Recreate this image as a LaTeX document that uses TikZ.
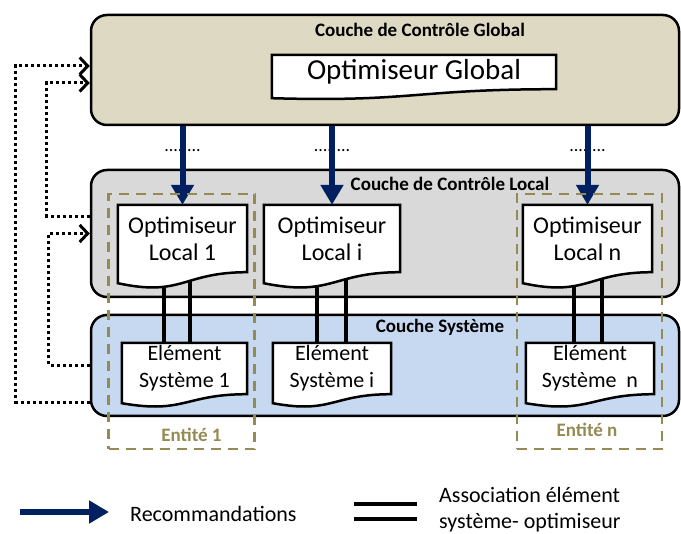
\documentclass[tikz,border=0pt]{standalone}
\usepackage{fontspec}
\setmainfont{Carlito}
\usetikzlibrary{arrows.meta,calc,positioning}

\definecolor{globalfill}{HTML}{DDD9C3}
\definecolor{localfill}{HTML}{D9D9D9}
\definecolor{sysfill}{HTML}{C6D9F1}
\definecolor{entcol}{HTML}{948A54}
\definecolor{navy}{HTML}{002060}

\pgfdeclarelayer{background}
\pgfdeclarelayer{links}
\pgfdeclarelayer{docs}
\pgfsetlayers{background,links,docs,main}

\newcommand\globfont{\fontsize{29}{32}\selectfont}
\newcommand\localfont{\fontsize{24}{27}\selectfont}
\newcommand\elemfont{\fontsize{22}{27}\selectfont}

% document outline: node, drop of the left end, depth of the wave
\newcommand\docshape[3]{%
  \begin{pgfonlayer}{docs}
  \draw[docline] (#1.south east) -- (#1.north east) -- (#1.north west) -- ([yshift=-#2]#1.south west)
    .. controls ([yshift=-#3]#1.south) and (#1.south) .. (#1.south east) -- cycle;
  \end{pgfonlayer}}

\tikzset{
  layerbox/.style={draw=black, line width=2.5pt, rounded corners=16pt, minimum width=588pt, inner sep=0pt},
  layertitle/.style={font=\bfseries\fontsize{19}{19}\selectfont},
  docbox/.style={inner sep=0pt, align=center},
  docline/.style={fill=white, line width=2.5pt, line join=miter},
  reco/.style={draw=navy, line width=6pt, -{Triangle[width=22pt,length=20pt]}},
  assoc/.style={line width=4pt},
  entbox/.style={draw=entcol, line width=2.5pt, dash pattern=on 10pt off 7pt, inner sep=0pt},
  entlabel/.style={text=entcol, font=\bfseries\fontsize{19}{19}\selectfont},
  feedback/.style={line width=3pt, dash pattern=on 3pt off 3pt, -{Straight Barb[length=8pt,width=17pt,line width=3pt]}},
  dotsep/.style={font=\fontsize{18}{18}\selectfont, inner sep=0pt},
  legendtext/.style={font=\fontsize{22}{26}\selectfont, inner sep=0pt},
}

\begin{document}
\begin{tikzpicture}[x=1pt,y=-1pt]
  \useasboundingbox (0,0) rectangle (681,534);

  % the three layers
  \begin{pgfonlayer}{background}
    \node[layerbox, fill=globalfill, minimum height=110pt] (glob) at (385,70) {};
    \node[layerbox, fill=localfill, minimum height=127pt] (loc) at (385,233.5) {};
    \node[layerbox, fill=sysfill, minimum height=101pt] (sys) at (385,365.5) {};
  \end{pgfonlayer}
  \node[layertitle, anchor=base] (globtitle) at (420,37) {Couche de Contrôle Global};
  \node[layertitle, anchor=base] (loctitle) at (450,191) {Couche de Contrôle Local};
  \node[layertitle, anchor=base] (systitle) at (440,333) {Couche Système};

  % optimiseurs et elements
  \node[docbox, font=\globfont, minimum width=284pt, minimum height=34pt] (og) at (414,72) {Optimiseur Global};
  \docshape{og}{9pt}{13pt}

  \node[docbox, font=\localfont, minimum width=129pt, minimum height=67pt] (ol1) at (182.5,238.5) {Optimiseur\\Local 1};
  \node[docbox, font=\localfont, minimum width=136pt, minimum height=67pt] (oli) at (332,238.5) {Optimiseur\\Local i};
  \node[docbox, font=\localfont, minimum width=129pt, minimum height=67pt] (oln) at (587.5,238.5) {Optimiseur\\Local n};
  \foreach \n in {ol1,oli,oln} {\docshape{\n}{11pt}{25pt}}

  \node[docbox, font=\elemfont, minimum width=125pt, minimum height=51pt] (el1) at (184.5,368.5) {Elément\\Système 1};
  \node[docbox, font=\elemfont, minimum width=118pt, minimum height=51pt] (eli) at (332,368.5) {Elément\\Système i};
  \node[docbox, font=\elemfont, minimum width=128pt, minimum height=51pt] (eln) at (590,368.5) {Elément\\Système~ n};
  \foreach \n in {el1,eli,eln} {\docshape{\n}{9pt}{20pt}}

  % associations
  \begin{pgfonlayer}{links}
    \foreach \o/\e/\a/\b in {ol1/el1/-19/7, oli/eli/-15/14, oln/eln/-14/14} {
      \draw[assoc] ([xshift=\a pt]\o.center) -- ([xshift=\a pt]\o.center |- \e.north);
      \draw[assoc] ([xshift=\b pt]\o.center) -- ([xshift=\b pt]\o.center |- \e.north);
    }
  \end{pgfonlayer}

  % recommandations
  \foreach \o in {ol1,oli,oln} {
    \node[dotsep] at ($(glob.south -| \o.north)+(0,24)$) {........};
    \draw[reco] (glob.south -| \o.north) -- (\o.north);
  }

  % entites
  \node[entbox, minimum width=146pt, minimum height=255pt] (ent1) at (181.5,321.5) {};
  \node[entbox, minimum width=145pt, minimum height=255pt] (entn) at (589.5,321.5) {};
  \node[entlabel, anchor=base] at ($(ent1.south)+(10,-9)$) {Entité 1};
  \node[entlabel, anchor=base] at ($(entn.south)+(-2.5,-14)$) {Entité n};

  % retours
  \draw[feedback] ([yshift=-37pt]sys.west) -- ++(-74,0) |- ([yshift=4pt]glob.west);
  \draw[feedback] (sys.west) -- ++(-41,0) |- (loc.west);
  \draw[feedback] ([yshift=17pt]loc.west) -- ++(-43,0) |- ([yshift=-13pt]glob.west);

  % legende
  \coordinate (recoleg) at (20,512);
  \draw[reco] (recoleg) -- ++(89,0) coordinate (recolegend);
  \node[legendtext, anchor=base west] (recotext) at (130,522) {Recommandations};
  \coordinate (assocleg) at (354,504);
  \draw[assoc] (assocleg) -- ++(63,0);
  \draw[assoc] ([yshift=-15pt]assocleg) -- ++(63,0);
  \node[legendtext, anchor=west, align=left] (assoctext) at (439,510) {Association élément\\système- optimiseur};
\end{tikzpicture}
\end{document}
